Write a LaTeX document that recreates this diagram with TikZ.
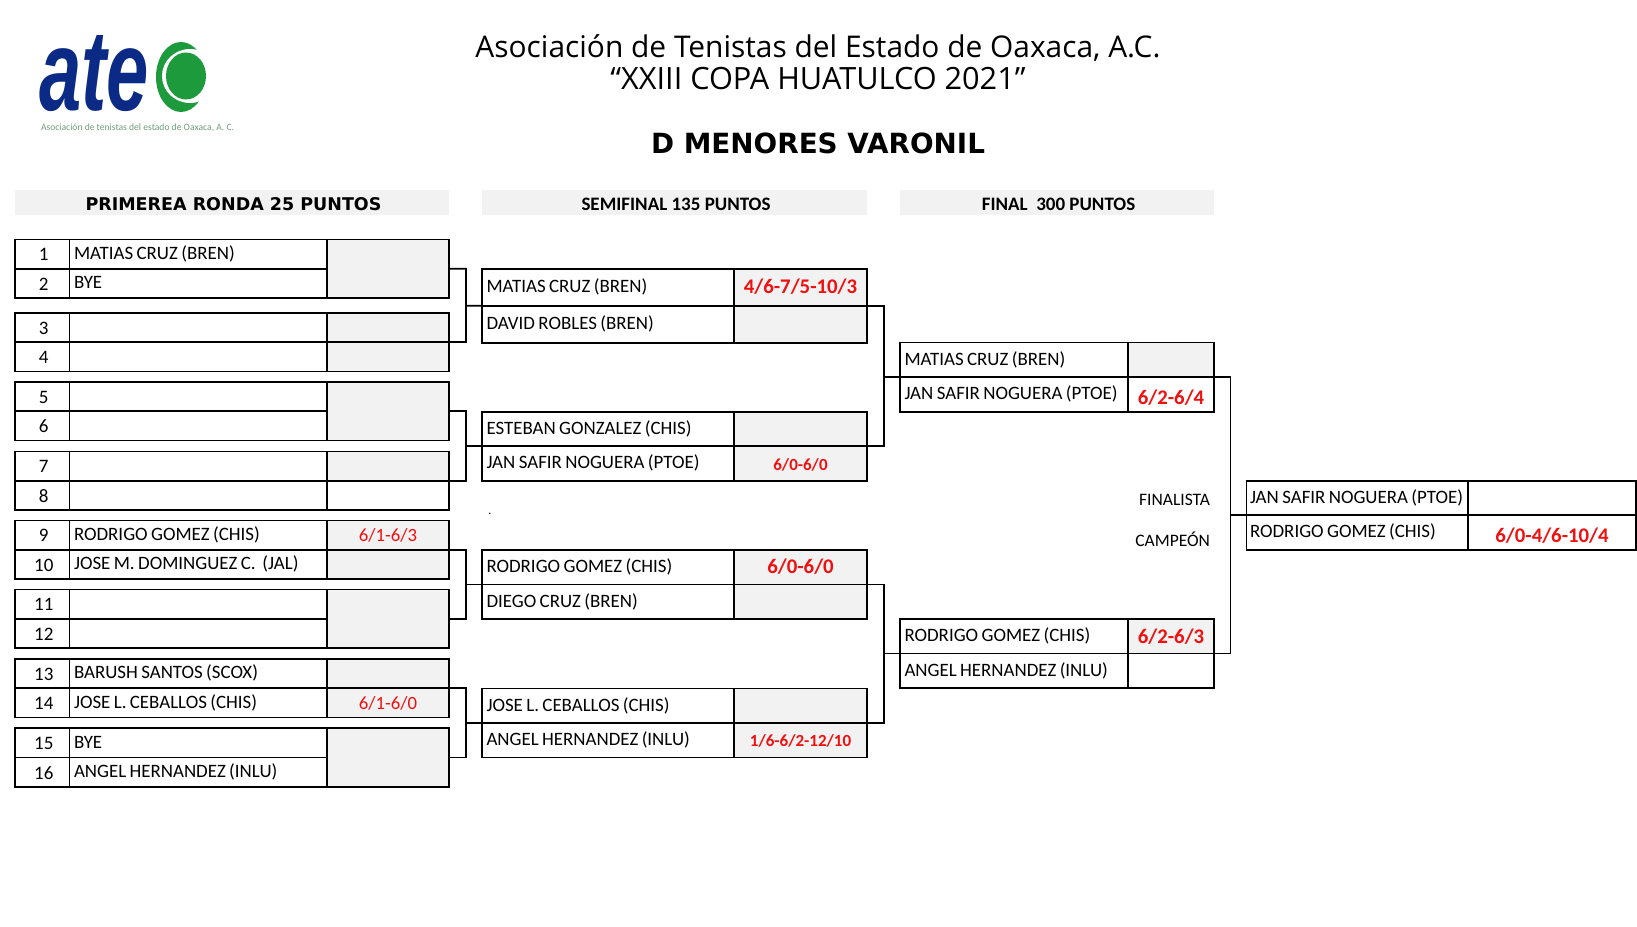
\documentclass[tikz,border=0pt]{standalone}
\usepackage{fontspec}
\usepackage{xcolor}
\setmainfont{Carlito}
\newfontfamily\titlefont{Open Sans}
\newfontfamily\heavyfont{DejaVu Sans}
\newfontfamily\logofont{Liberation Sans}
\definecolor{cellgray}{HTML}{F2F2F2}
\definecolor{scorered}{HTML}{F01010}
\definecolor{atecblue}{HTML}{0B2A86}
\definecolor{atecgreen}{HTML}{1C9A3C}
\definecolor{taggreen}{HTML}{6F9A80}
\begin{document}
\begin{tikzpicture}[x=1pt, y=-1pt,
	cell/.style={draw=black, line width=1.7pt, rectangle, anchor=north west, outer sep=0pt, inner sep=0pt},
	gray/.style={fill=cellgray},
	band/.style={fill=cellgray, rectangle, anchor=north west, outer sep=0pt, inner sep=0pt, minimum height=25pt, text height=16pt, text depth=1pt, execute at begin node={\hspace{3pt}}},
	playertext/.style={font=\fontsize{18.9}{20}\selectfont, execute at begin node={\spaceskip=3.4pt\relax}, align=left, inner xsep=4.5pt, text height=12pt, text depth=1.4pt},
	numcell/.style={cell, font=\fontsize{19}{20}\selectfont, minimum width=54.5pt, minimum height=29.3pt, text height=14.5pt, text depth=1pt, execute at begin node={\hspace{3pt}}},
	namecell/.style={cell, playertext, minimum width=257.5pt, text width=248.5pt, minimum height=29.3pt},
	scorecell/.style={cell, gray, text=scorered, font=\fontsize{18.7}{20}\selectfont, minimum width=122pt, minimum height=29.3pt, text height=14pt, text depth=1pt},
	seminame/.style={cell, playertext, minimum width=252pt, text width=243pt, minimum height=34.6pt},
	semiscore/.style={cell, gray, text=scorered, minimum width=133pt, minimum height=34.6pt, text height=14pt, text depth=1pt},
	finalname/.style={cell, playertext, minimum width=228pt, text width=219pt, minimum height=34.6pt},
	finalscore/.style={cell, text=scorered, minimum width=86pt, minimum height=34.6pt, text height=14pt, text depth=0pt},
	champname/.style={cell, playertext, inner xsep=3.5pt, minimum width=221.5pt, text width=214.5pt, minimum height=34.6pt},
	champscore/.style={cell, text=scorered, minimum width=168pt, minimum height=34.6pt, text height=14pt, text depth=0pt},
	bigscore/.style={font=\fontsize{20.8}{24}\bfseries\selectfont},
	midscore/.style={font=\fontsize{17}{20}\bfseries\selectfont},
	link/.style={draw=black, line width=1.7pt},
	plain/.style={inner sep=0pt, outer sep=0pt}]
	\useasboundingbox (0, 0) rectangle (1637, 926);
	% logo
	\draw (94, 110) node[plain, anchor=base, text depth=0pt, text=atecblue, font=\logofont\fontsize{115}{115}\bfseries\itshape\selectfont] (logotext) {\scalebox{0.66}[1]{ate}};
	\fill[atecgreen] (181, 77) ellipse [x radius=25, y radius=35];
	\fill[white] (190, 76) ellipse [x radius=28, y radius=27];
	\fill[atecgreen] (186, 76) ellipse [x radius=20, y radius=23.5];
	\draw (41, 128) node[plain, anchor=west, text=taggreen, font=\fontsize{9.6}{11}\selectfont] (tagline) {Asociación de tenistas del estado de Oaxaca, A. C.};
	% titles
	\draw (818, 48) node[plain, font=\titlefont\fontsize{29.9}{32}\selectfont] (title1) {Asociación de Tenistas del Estado de Oaxaca, A.C.};
	\draw (818, 79) node[plain, font=\titlefont\fontsize{30.7}{32}\selectfont] (title2) {“XXIII COPA HUATULCO 2021”};
	\draw (818, 143) node[plain, font=\heavyfont\fontsize{27.8}{30}\bfseries\selectfont] (title3) {D MENORES VARONIL};
	% round headers
	\draw (15, 190) node[band, minimum width=434pt, font=\heavyfont\fontsize{17.5}{20}\bfseries\selectfont] (head1) {PRIMEREA RONDA 25 PUNTOS};
	\draw (482, 190) node[band, minimum width=385pt, font=\fontsize{19}{20}\bfseries\selectfont] (head2) {SEMIFINAL 135 PUNTOS};
	\draw (900, 190) node[band, minimum width=314pt, font=\fontsize{19}{20}\bfseries\selectfont] (head3) {FINAL~~300 PUNTOS};
	% first round
	\draw (15, 239.5) node[numcell] (n1) {1};
	\draw (69.5, 239.5) node[namecell] (p1) {MATIAS CRUZ (BREN)};
	\draw (15, 268.8) node[numcell] (n2) {2};
	\draw (69.5, 268.8) node[namecell] (p2) {BYE};
	\draw (327, 239.5) node[scorecell, minimum height=58.6pt] (s1) {};
	\draw (15, 313) node[numcell] (n3) {3};
	\draw (69.5, 313) node[namecell] (p3) {};
	\draw (327, 313) node[scorecell] (s3) {};
	\draw (15, 342.3) node[numcell] (n4) {4};
	\draw (69.5, 342.3) node[namecell] (p4) {};
	\draw (327, 342.3) node[scorecell] (s4) {};
	\draw (15, 382) node[numcell] (n5) {5};
	\draw (69.5, 382) node[namecell] (p5) {};
	\draw (15, 411.3) node[numcell] (n6) {6};
	\draw (69.5, 411.3) node[namecell] (p6) {};
	\draw (327, 382) node[scorecell, minimum height=58.6pt] (s5) {};
	\draw (15, 451.5) node[numcell] (n7) {7};
	\draw (69.5, 451.5) node[namecell] (p7) {};
	\draw (327, 451.5) node[scorecell] (s7) {};
	\draw (15, 480.8) node[numcell] (n8) {8};
	\draw (69.5, 480.8) node[namecell] (p8) {};
	\draw (327, 480.8) node[scorecell, fill=white] (s8) {};
	\draw (15, 520.5) node[numcell] (n9) {9};
	\draw (69.5, 520.5) node[namecell] (p9) {RODRIGO GOMEZ (CHIS)};
	\draw (327, 520.5) node[scorecell] (s9) {6/1-6/3};
	\draw (15, 550) node[numcell] (n10) {10};
	\draw (69.5, 550) node[namecell] (p10) {JOSE M. DOMINGUEZ C.~~(JAL)};
	\draw (327, 550) node[scorecell] (s10) {};
	\draw (15, 589.5) node[numcell] (n11) {11};
	\draw (69.5, 589.5) node[namecell] (p11) {};
	\draw (15, 619) node[numcell] (n12) {12};
	\draw (69.5, 619) node[namecell] (p12) {};
	\draw (327, 589.5) node[scorecell, minimum height=58.8pt] (s11) {};
	\draw (15, 659) node[numcell] (n13) {13};
	\draw (69.5, 659) node[namecell] (p13) {BARUSH SANTOS (SCOX)};
	\draw (327, 659) node[scorecell] (s13) {};
	\draw (15, 688.3) node[numcell] (n14) {14};
	\draw (69.5, 688.3) node[namecell] (p14) {JOSE L. CEBALLOS (CHIS)};
	\draw (327, 688.3) node[scorecell] (s14) {6/1-6/0};
	\draw (15, 728.3) node[numcell] (n15) {15};
	\draw (69.5, 728.3) node[namecell] (p15) {BYE};
	\draw (15, 757.6) node[numcell] (n16) {16};
	\draw (69.5, 757.6) node[namecell] (p16) {ANGEL HERNANDEZ (INLU)};
	\draw (327, 728.3) node[scorecell, minimum height=58.6pt] (s15) {};
	% semifinal
	\draw (482, 269) node[seminame, minimum height=36.7pt] (m1) {MATIAS CRUZ (BREN)};
	\draw (734, 269) node[semiscore, minimum height=36.7pt, bigscore] (t1) {4/6-7/5-10/3};
	\draw (482, 305.7) node[seminame, minimum height=37pt] (m2) {DAVID ROBLES (BREN)};
	\draw (734, 305.7) node[semiscore, minimum height=37pt] (t2) {};
	\draw (482, 411.7) node[seminame] (m3) {ESTEBAN GONZALEZ (CHIS)};
	\draw (734, 411.7) node[semiscore] (t3) {};
	\draw (482, 446.3) node[seminame] (m4) {JAN SAFIR NOGUERA (PTOE)};
	\draw (734, 446.3) node[semiscore, midscore] (t4) {6/0-6/0};
	\draw (482, 550) node[seminame] (m5) {RODRIGO GOMEZ (CHIS)};
	\draw (734, 550) node[semiscore, bigscore] (t5) {6/0-6/0};
	\draw (482, 584.6) node[seminame] (m6) {DIEGO CRUZ (BREN)};
	\draw (734, 584.6) node[semiscore] (t6) {};
	\draw (482, 688.4) node[seminame] (m7) {JOSE L. CEBALLOS (CHIS)};
	\draw (734, 688.4) node[semiscore] (t7) {};
	\draw (482, 723) node[seminame] (m8) {ANGEL HERNANDEZ (INLU)};
	\draw (734, 723) node[semiscore, midscore] (t8) {1/6-6/2-12/10};
	\draw (490, 514) node[plain, font=\fontsize{12}{14}\selectfont] (dot) {.};
	% final
	\draw (900, 342.5) node[finalname] (f1) {MATIAS CRUZ (BREN)};
	\draw (1128, 342.5) node[finalscore, gray] (g1) {};
	\draw (900, 377.1) node[finalname] (f2) {JAN SAFIR NOGUERA (PTOE)};
	\draw (1128, 377.1) node[finalscore, bigscore, text height=20pt] (g2) {6/2-6/4};
	\draw (900, 619) node[finalname] (f3) {RODRIGO GOMEZ (CHIS)};
	\draw (1128, 619) node[finalscore, gray, bigscore] (g3) {6/2-6/3};
	\draw (900, 653.6) node[finalname] (f4) {ANGEL HERNANDEZ (INLU)};
	\draw (1128, 653.6) node[finalscore] (g4) {};
	% champion
	\draw (1246.5, 480.7) node[champname] (c1) {JAN SAFIR NOGUERA (PTOE)};
	\draw (1468, 480.7) node[champscore] (d1) {};
	\draw (1246.5, 515.3) node[champname] (c2) {RODRIGO GOMEZ (CHIS)};
	\draw (1468, 515.3) node[champscore, bigscore, text height=20pt] (d2) {6/0-4/6-10/4};
	\draw (1210, 500) node[plain, anchor=east, font=\fontsize{17.5}{18}\selectfont] (finalista) {FINALISTA};
	\draw (1210, 539) node[plain, anchor=east, font=\fontsize{17.5}{18}\selectfont] (campeon) {CAMPEÓN};
	% connectors
	\coordinate (j1) at (466, 305.7);
	\coordinate (j2) at (466, 446.3);
	\coordinate (j3) at (466, 584.6);
	\coordinate (j4) at (466, 723);
	\coordinate (j5) at (884, 377.1);
	\coordinate (j6) at (884, 653.6);
	\coordinate (j7) at (1230.5, 515.3);
	\draw[link] (s1.east) -| (j1) -- (m1.south west);
	\draw[link] (s3.south east) -| (j1);
	\draw[link] (s5.east) -| (j2) -- (m3.south west);
	\draw[link] (s7.south east) -| (j2);
	\draw[link] (s9.south east) -| (j3) -- (m5.south west);
	\draw[link] (s11.east) -| (j3);
	\draw[link] (s13.south east) -| (j4) -- (m7.south west);
	\draw[link] (s15.east) -| (j4);
	\draw[link] (t1.south east) -| (j5) -- (f1.south west);
	\draw[link] (t3.south east) -| (j5);
	\draw[link] (t5.south east) -| (j6) -- (f3.south west);
	\draw[link] (t7.south east) -| (j6);
	\draw[link] (g1.south east) -| (j7) -- (c1.south west);
	\draw[link] (g3.south east) -| (j7);
\end{tikzpicture}
\end{document}
